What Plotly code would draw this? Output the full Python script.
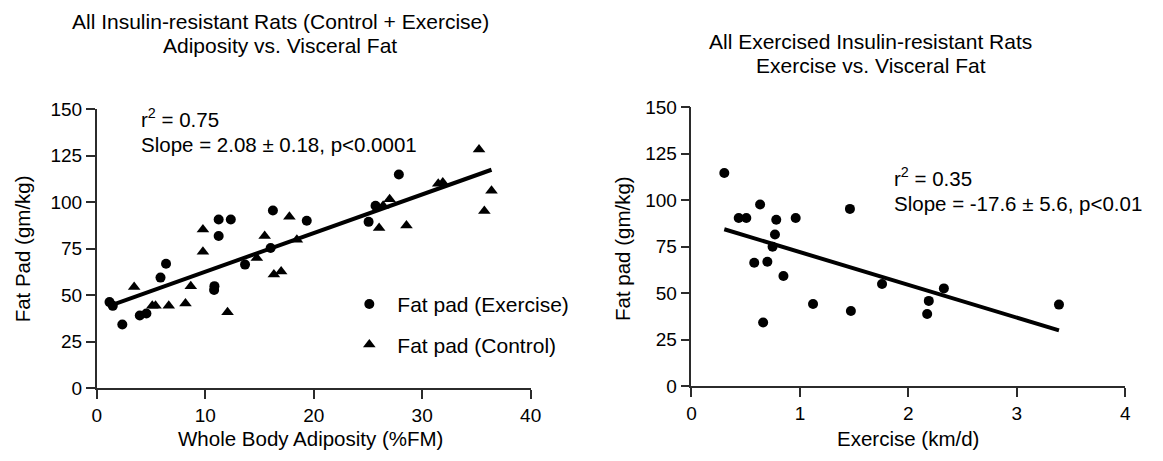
import plotly.graph_objects as go

# Left panel: whole-body adiposity (%FM) vs. fat pad (gm/kg)
exercise_adiposity = [1.18, 1.48, 2.36, 3.97, 4.58, 5.88, 6.39, 10.82, 10.85, 11.24,
                      11.24, 12.36, 13.67, 16.03, 16.24, 19.36, 25.06, 25.70, 27.85]
exercise_fatpad = [46.2, 44.2, 34.2, 39.0, 40.1, 59.4, 66.9, 52.7, 54.8, 81.8,
                   90.7, 90.7, 66.4, 75.3, 95.5, 90.0, 89.4, 98.1, 114.9]

control_adiposity = [3.45, 5.12, 5.42, 6.64, 8.18, 8.67, 9.79, 9.79, 12.06, 14.76,
                     15.48, 16.33, 17.00, 17.76, 18.45, 26.03, 26.40, 27.00, 28.55,
                     31.48, 31.90, 35.24, 35.73, 36.39]
control_fatpad = [54.4, 44.2, 44.2, 44.2, 45.5, 54.8, 85.3, 73.3, 40.7, 69.9,
                  81.8, 61.0, 62.7, 92.1, 79.8, 86.1, 98.1, 101.5, 87.5,
                  109.9, 110.6, 128.4, 95.2, 106.2]

left_slope = 2.08
left_intercept = 41.75

# Right panel: exercise (km/d) vs. fat pad (gm/kg), exercised rats only
exercise_km = [0.303, 0.633, 0.436, 0.506, 0.782, 0.961, 0.770, 0.748, 0.579, 0.700,
               0.848, 0.661, 1.121, 1.461, 1.470, 1.757, 2.188, 2.173, 2.327, 3.388]
exercise_km_fatpad = [114.6, 97.7, 90.4, 90.4, 89.5, 90.4, 81.6, 75.0, 66.4, 66.9,
                      59.3, 34.3, 44.2, 95.3, 40.5, 55.0, 45.9, 38.9, 52.6, 43.9]

right_slope = -17.6
right_intercept = 89.7

left_x_ticks = [0, 10, 20, 30, 40]
right_x_ticks = [0, 1, 2, 3, 4]
y_ticks = [0, 25, 50, 75, 100, 125, 150]

W, H = 1163, 461
FONT = "Liberation Sans, Arial, sans-serif"
AXIS_COLOR = "#2b2b2b"


def px_x(p):
    return p / W


def px_y(p):
    return 1 - p / H


fig = go.Figure()

fig.add_trace(go.Scatter(
    x=exercise_adiposity, y=exercise_fatpad, mode="markers",
    name="Fat pad (Exercise)", legendgroup="ex",
    marker=dict(symbol="circle", size=10, color="black"),
    xaxis="x", yaxis="y", cliponaxis=False))
fig.add_trace(go.Scatter(
    x=control_adiposity, y=control_fatpad, mode="markers",
    name="Fat pad (Control)", legendgroup="ctl",
    marker=dict(symbol="triangle-up", size=11, color="black"),
    xaxis="x", yaxis="y", cliponaxis=False))

all_left_x = exercise_adiposity + control_adiposity
lx = [min(all_left_x), max(all_left_x)]
fig.add_trace(go.Scatter(
    x=lx, y=[left_intercept + left_slope * v for v in lx], mode="lines",
    line=dict(color="black", width=4), showlegend=False,
    xaxis="x", yaxis="y"))

fig.add_trace(go.Scatter(
    x=exercise_km, y=exercise_km_fatpad, mode="markers",
    marker=dict(symbol="circle", size=10, color="black"), showlegend=False,
    xaxis="x2", yaxis="y2", cliponaxis=False))
rx = [min(exercise_km), max(exercise_km)]
fig.add_trace(go.Scatter(
    x=rx, y=[right_intercept + right_slope * v for v in rx], mode="lines",
    line=dict(color="black", width=4), showlegend=False,
    xaxis="x2", yaxis="y2"))

axis_common = dict(
    showgrid=False, zeroline=False, showline=True, linecolor=AXIS_COLOR,
    linewidth=1.5, ticks="outside", ticklen=9, tickwidth=1.5,
    tickcolor=AXIS_COLOR, tickfont=dict(family=FONT, size=19, color="black"),
    fixedrange=True)

fig.update_layout(
    width=W, height=H,
    margin=dict(l=0, r=0, t=0, b=0),
    paper_bgcolor="white", plot_bgcolor="white",
    font=dict(family=FONT, color="black"),
    xaxis=dict(domain=[px_x(93), px_x(533)], range=[0, 40], tickvals=left_x_ticks,
               anchor="y", **axis_common),
    yaxis=dict(domain=[px_y(396), px_y(104)], range=[0, 150], tickvals=y_ticks,
               anchor="x", **axis_common),
    xaxis2=dict(domain=[px_x(696), px_x(1136)], range=[0, 4], tickvals=right_x_ticks,
                anchor="y2", **axis_common),
    yaxis2=dict(domain=[px_y(394.3), px_y(101.7)], range=[0, 150], tickvals=y_ticks,
                anchor="x2", **axis_common),
    showlegend=True,
    legend=dict(x=px_x(341), y=px_y(287), xanchor="left", yanchor="top",
                font=dict(family=FONT, size=21, color="black"),
                itemwidth=46, tracegroupgap=10, bgcolor="rgba(0,0,0,0)"),
)

# (text, x px, y px, font size, x anchor, y anchor, angle)
annotations = [
    # panel titles, one line each
    ("All Insulin-resistant Rats (Control + Exercise)", 279, 12, 21, "center", "middle", 0),
    ("Adiposity vs. Visceral Fat", 279, 37, 21, "center", "middle", 0),
    ("All Exercised Insulin-resistant Rats", 878, 33, 21, "center", "middle", 0),
    ("Exercise vs. Visceral Fat", 878, 58, 21, "center", "middle", 0),
    # axis titles
    ("Whole Body Adiposity (%FM)", 310, 449, 20.5, "center", "middle", 0),
    ("Exercise (km/d)", 916, 449, 20.5, "center", "middle", 0),
    ("Fat Pad (gm/kg)", 18, 250, 20.5, "center", "middle", -90),
    ("Fat pad (gm/kg)", 626, 250, 20.5, "center", "middle", -90),
    # regression statistics
    ("r<sup>2</sup> = 0.75", 137, 128, 20.5, "left", "bottom", 0),
    ("Slope = 2.08 ± 0.18, p<0.0001", 137, 128, 20.5, "left", "top", 0),
    ("r<sup>2</sup> = 0.35", 900, 190, 20.5, "left", "bottom", 0),
    ("Slope = -17.6 ± 5.6, p<0.01", 900, 190, 20.5, "left", "top", 0),
]
for text, ax, ay, size, xa, ya, angle in annotations:
    fig.add_annotation(
        text=text, x=px_x(ax), y=px_y(ay), xref="paper", yref="paper",
        xanchor=xa, yanchor=ya, textangle=angle, showarrow=False,
        borderpad=0, font=dict(family=FONT, size=size, color="black"))

fig.write_html("out.html")
